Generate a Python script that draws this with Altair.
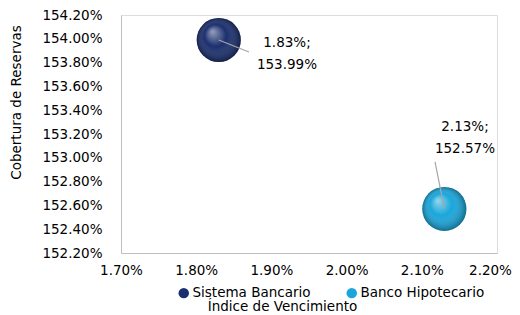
import altair as alt
import pandas as pd

series = ["Sistema Bancario", "Banco Hipotecario"]
indice = [1.83, 2.13]
cobertura = [153.99, 152.57]
label_line1 = ["1.83%;", "2.13%;"]
label_line2 = ["153.99%", "152.57%"]
label_x = [1.9207, 2.1574]
label_y = [153.965, 153.259]
leader_x = [1.8702, 2.1176]
leader_y = [153.889, 152.965]
colors = ["#1B2F6E", "#1AA6DA"]
x_ticks = [1.70, 1.80, 1.90, 2.00, 2.10, 2.20]
y_ticks = [152.20, 152.40, 152.60, 152.80, 153.00, 153.20, 153.40, 153.60, 153.80, 154.00, 154.20]

df = pd.DataFrame({
    "serie": series, "x": indice, "y": cobertura,
    "lx": label_x, "ly": label_y, "rx": leader_x, "ry": leader_y,
    "txt": [[a, b] for a, b in zip(label_line1, label_line2)],
})

FONT = "DejaVu Sans"
FS = 13.5

xs = alt.Scale(domain=[1.70, 2.20], nice=False, zero=False)
ys = alt.Scale(domain=[152.20, 154.20], nice=False, zero=False)

xenc = alt.X("x:Q", scale=xs, axis=alt.Axis(
    title="Índice de Vencimiento", values=x_ticks, labelOverlap=False, tickCount=6,
    labelFlush=False,
    labelOffset={"condition": {"test": "datum.value >= 2.19", "value": -7}, "value": 0},
    labelExpr="format(datum.value, '.2f') + '%'", grid=False, ticks=False,
    domainColor="#BFBFBF", labelPadding=10, labelFontSize=FS, labelColor="#000",
    titleFontSize=FS, titleFontWeight="normal", titleColor="#000",
    titleX=161, titleY=53, titleBaseline="middle", titleFont=FONT, labelFont=FONT))
yenc = alt.Y("y:Q", scale=ys, axis=alt.Axis(
    title="Cobertura de Reservas", values=y_ticks, labelOverlap=False, tickCount=11,
    labelFlush=False,
    labelExpr="format(datum.value, '.2f') + '%'", grid=False, ticks=False,
    domainColor="#BFBFBF", labelPadding=19, labelFontSize=FS, labelColor="#000",
    titleFontSize=FS, titleFontWeight="normal", titleColor="#000",
    titleX=-105, titleY=87, titleBaseline="middle", titleAlign="center", titleAngle=270,
    titleFont=FONT, labelFont=FONT))

base = alt.Chart(df).encode(x=xenc, y=yenc)

bubbles = base.mark_circle(size=1950, opacity=1).encode(
    color=alt.Color("serie:N", scale=alt.Scale(domain=series, range=colors),
                    legend=alt.Legend(title=None, orient="none", direction="horizontal",
                                      legendX=56, legendY=271, labelFontSize=FS,
                                      labelFont=FONT, labelColor="#000", symbolType="circle",
                                      symbolSize=110, symbolOpacity=1, columnPadding=34,
                                      labelOffset=2)),
)

shade = base.mark_circle(size=1950, opacity=1, fill=alt.Gradient(
    gradient="radial", x1=0.35, y1=0.3, r1=0.0, x2=0.5, y2=0.5, r2=0.5,
    stops=[alt.GradientStop(color="rgba(255,255,255,0.55)", offset=0),
           alt.GradientStop(color="rgba(255,255,255,0)", offset=0.5),
           alt.GradientStop(color="rgba(0,0,0,0.35)", offset=1)]))

leaders = base.mark_rule(color="#A6A6A6", strokeWidth=1.2).encode(
    x2="rx:Q", y2="ry:Q")

labels = base.mark_text(fontSize=FS, font=FONT, color="#000", lineHeight=22,
                        baseline="middle", align="center").encode(
    x="lx:Q", y="ly:Q", text="txt")

chart = alt.layer(bubbles, shade, leaders, labels).properties(
    width=376, height=238,
    autosize=alt.AutoSizeParams(type="none"),
    padding={"left": 113, "top": 7, "right": 15, "bottom": 62},
).configure_view(strokeWidth=0).configure(background="white")

chart.save("out.html", embed_options={"renderer": "svg", "actions": False})
